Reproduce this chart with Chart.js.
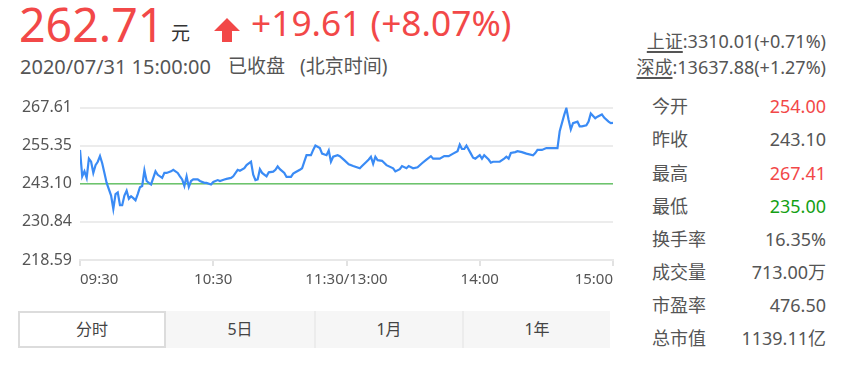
<!DOCTYPE html>
<html>
<head>
<meta charset="utf-8">
<script src="https://cdn.jsdelivr.net/npm/chart.js@4.4.1/dist/chart.umd.min.js"></script>
<style>
  body { margin: 0; width: 852px; height: 367px; background: #fff; overflow: hidden;
         font-family: "Noto Sans", "Noto Sans CJK SC", sans-serif; color: #555; position: relative; }
  .abs { position: absolute; white-space: nowrap; line-height: 1; }
  .idx { right: 26px; font-size: 18px; color: #555; }
  .idx u { text-decoration-thickness: 2px; text-underline-offset: 3px; }
  .lbl { left: 652px; font-size: 18px; color: #555; }
  .val { right: 26px; font-size: 18px; color: #555; text-align: right; }
  .red, .val.red { color: #f24848; }
  .val.green { color: #14a014; }
  .tab { position: absolute; top: 311px; height: 37px; width: 148px; background: #f6f6f6;
         font-size: 16px; color: #444; text-align: center; line-height: 37px; box-sizing: border-box; }
  .tab.on { background: #fff; border: 2px solid #dcdcdc; line-height: 33px; }
  .tab.sep { border-left: 2px solid #ececec; }
  #wrap { position: absolute; left: 0; top: 90px; width: 620px; height: 210px; }
</style>
</head>
<body>
<div class="abs red" style="left:19px;top:1px;font-size:46.5px;">262.71</div>
<div class="abs" style="left:171px;top:24px;font-size:19px;color:#333;">元</div>
<svg class="abs" style="left:213px;top:17px;" width="28" height="26" viewBox="0 0 28 26">
  <polygon points="14,1 27,14 19,14 19,25 9,25 9,14 1,14" fill="#f24848"/>
</svg>
<div class="abs red" style="left:251px;top:5px;font-size:35.3px;">+19.61 (+8.07%)</div>
<div class="abs" style="left:20px;top:57px;font-size:20px;">2020/07/31 15:00:00</div>
<div class="abs" style="left:228px;top:57px;font-size:19px;">已收盘</div>
<div class="abs" style="left:300px;top:57px;font-size:19px;">(北京时间)</div>

<div class="abs idx" style="top:32px;"><u>上证</u>:3310.01(+0.71%)</div>
<div class="abs idx" style="top:58px;"><u>深成</u>:13637.88(+1.27%)</div>

<div class="abs lbl" style="top:97px;">今开</div><div class="abs val red" style="top:97px;">254.00</div>
<div class="abs lbl" style="top:130px;">昨收</div><div class="abs val" style="top:130px;">243.10</div>
<div class="abs lbl" style="top:164px;">最高</div><div class="abs val red" style="top:164px;">267.41</div>
<div class="abs lbl" style="top:197px;">最低</div><div class="abs val green" style="top:197px;">235.00</div>
<div class="abs lbl" style="top:230px;">换手率</div><div class="abs val" style="top:230px;">16.35%</div>
<div class="abs lbl" style="top:263px;">成交量</div><div class="abs val" style="top:263px;">713.00万</div>
<div class="abs lbl" style="top:296px;">市盈率</div><div class="abs val" style="top:296px;">476.50</div>
<div class="abs lbl" style="top:329px;">总市值</div><div class="abs val" style="top:329px;">1139.11亿</div>

<div class="tab on" style="left:18px;">分时</div>
<div class="tab" style="left:166px;">5日</div>
<div class="tab sep" style="left:314px;">1月</div>
<div class="tab sep" style="left:462px;">1年</div>

<div id="wrap"><canvas id="chart"></canvas></div>

<script>
// minutes since 09:30 (lunch break removed), 0..240
const minutes = [
  0, 1, 2, 3, 4, 5, 6, 7, 8, 9,
  10, 11, 12, 14, 15, 16, 17, 18, 19, 20,
  21, 22, 23, 24, 25, 26, 27, 28, 29, 30,
  31, 32, 33, 34, 35, 37, 38, 39, 41, 42,
  44, 45, 46, 47, 48, 49, 50, 51, 53, 54,
  56, 57, 59, 60, 62, 63, 65, 66, 68, 69,
  71, 72, 74, 75, 77, 78, 79, 80, 81, 82,
  84, 85, 87, 88, 89, 90, 92, 93, 95, 96,
  97, 99, 100, 101, 102, 104, 105, 106, 108, 109,
  111, 112, 113, 114, 116, 117, 119, 121, 123, 126,
  127, 129, 130, 131, 132, 133, 134, 136, 138, 141,
  142, 144, 145, 147, 148, 150, 152, 154, 156, 158,
  159, 162, 164, 166, 168, 170, 171, 172, 173, 174,
  176, 177, 178, 180, 181, 182, 184, 185, 186, 189,
  191, 192, 193, 194, 196, 197, 199, 201, 204, 205,
  206, 208, 210, 213, 215, 216, 218, 219, 220, 221,
  222, 224, 225, 226, 228, 229, 230, 232, 233, 235,
  236, 238, 239, 240,
];

const prices = [
  254.00, 245.5, 247.1, 245.0, 251.2, 250.2, 246.6, 249.1, 250.2, 252.0,
  249.7, 246.6, 243.4, 239.3, 235.0, 239.8, 240.3, 236.2, 236.2, 239.3,
  240.9, 238.3, 239.1, 238.5, 237.8, 239.8, 242.0, 242.4, 247.4, 244.0,
  243.4, 242.9, 245.0, 247.1, 246.0, 245.0, 246.6, 246.6, 247.1, 247.6,
  246.6, 245.5, 244.5, 242.4, 245.5, 242.1, 244.0, 244.5, 244.5, 244.0,
  243.4, 243.4, 242.9, 243.7, 244.3, 244.0, 244.5, 244.7, 245.0, 245.5,
  247.6, 247.3, 248.1, 249.1, 250.2, 246.0, 244.3, 244.5, 247.8, 246.6,
  245.5, 246.8, 247.0, 247.6, 248.7, 247.8, 246.6, 245.3, 245.3, 246.4,
  246.8, 247.6, 248.1, 250.2, 252.3, 252.3, 254.0, 255.4, 254.6, 252.8,
  252.3, 253.8, 250.2, 251.8, 252.3, 252.0, 250.7, 249.4, 248.8, 248.1,
  248.8, 250.2, 250.9, 251.8, 249.5, 251.8, 250.7, 250.5, 249.1, 248.1,
  247.1, 247.8, 248.8, 248.1, 248.8, 248.1, 248.4, 249.7, 250.9, 252.0,
  251.2, 251.2, 252.0, 252.0, 252.8, 253.6, 255.7, 254.3, 254.3, 255.4,
  252.8, 251.5, 251.2, 252.3, 251.2, 252.3, 250.9, 249.9, 250.2, 250.2,
  251.2, 251.8, 251.2, 253.0, 253.3, 253.6, 253.3, 252.8, 252.3, 253.0,
  254.0, 254.0, 254.6, 254.6, 254.6, 260.0, 265.2, 267.41, 263.7, 260.6,
  262.6, 263.1, 261.6, 261.6, 261.9, 263.1, 265.7, 264.2, 264.7, 265.4,
  264.4, 263.1, 262.6, 262.71,
];

const prevClose = 243.10;
const priceTicks = [218.59, 230.84, 243.10, 255.35, 267.61];
const tickMinutes = [0, 60, 120, 180, 240];
const timeLabels = ["09:30", "10:30", "11:30/13:00", "14:00", "15:00"];

const tickFont = { family: "'Noto Sans', 'Noto Sans CJK SC', sans-serif", size: 15 };

function init() {
  const linePoints = minutes.map((m, i) => ({ x: m, y: prices[i] }));
  const basePoints = [
    { x: tickMinutes[0], y: prevClose },
    { x: tickMinutes[tickMinutes.length - 1], y: prevClose },
  ];

  new Chart(document.getElementById("chart"), {
    type: "line",
    data: {
      datasets: [
        { data: linePoints, borderColor: "#3a8bf5", borderWidth: 2.2, pointRadius: 0, tension: 0, order: 1 },
        { data: basePoints, borderColor: "#6cc56c", borderWidth: 1.5, pointRadius: 0, order: 2 },
      ],
    },
    options: {
      responsive: true,
      maintainAspectRatio: false,
      animation: false,
      layout: { padding: { top: 12, right: 7, left: 0, bottom: 0 } },
      plugins: { legend: { display: false }, tooltip: { enabled: false } },
      scales: {
        x: {
          type: "linear",
          min: 0,
          max: 240,
          afterBuildTicks: (s) => { s.ticks = tickMinutes.map((v) => ({ value: v })); },
          afterFit: (s) => { s.height = 40; },
          ticks: {
            align: "inner",
            maxRotation: 0,
            padding: 5,
            color: "#555",
            font: tickFont,
            callback: (v) => timeLabels[tickMinutes.indexOf(v)],
          },
          grid: { drawOnChartArea: false, drawTicks: true, tickLength: 6, color: "#e2e2e2", lineWidth: 2 },
          border: { display: true, color: "#e8e8e8", width: 2 },
        },
        y: {
          min: priceTicks[0],
          max: priceTicks[priceTicks.length - 1],
          afterBuildTicks: (s) => { s.ticks = priceTicks.map((v) => ({ value: v })); },
          afterFit: (s) => { s.width = 80; },
          ticks: {
            padding: 8,
            color: "#555",
            font: { family: tickFont.family, size: 16 },
            callback: (v) => v.toFixed(2),
          },
          grid: { drawTicks: false, color: "#ececec", lineWidth: 2 },
          border: { display: false },
        },
      },
    },
  });
}

window.addEventListener("load", init);
</script>
</body>
</html>
